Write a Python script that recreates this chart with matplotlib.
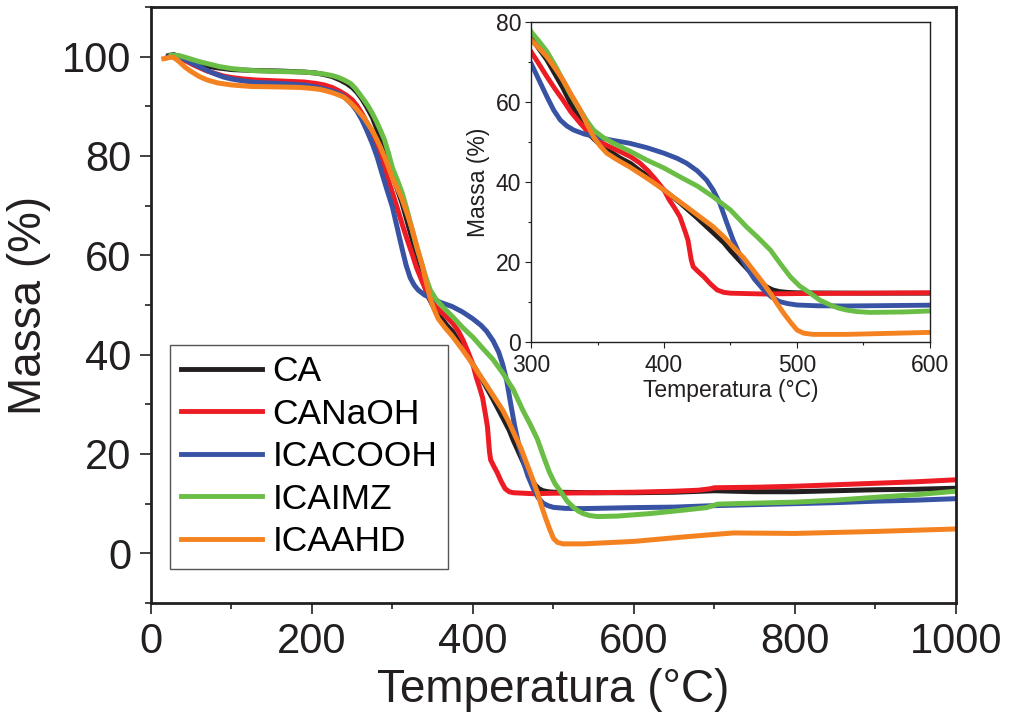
import matplotlib
matplotlib.use("Agg")
import matplotlib.pyplot as plt
from matplotlib.ticker import MultipleLocator

plt.rcParams['font.family'] = ['Liberation Sans', 'DejaVu Sans']

labels = ["CA", "CANaOH", "ICACOOH", "ICAIMZ", "ICAAHD"]
colors = ["#231f20", "#ed1c24", "#3953a4", "#6abd45", "#f58220"]

T_CA = [22, 28, 35, 45, 52, 60, 70, 80, 90, 100, 130, 160, 190, 205, 215, 225, 235, 243, 250, 256, 262, 268, 275,
        281, 287, 293, 300, 306, 312, 318, 324, 330, 337, 341, 345, 352, 360, 367, 375, 382, 390, 400, 412, 425,
        437, 445, 450, 455, 460, 465, 470, 474, 477, 482, 487, 493, 500, 550, 600, 650, 700, 750, 800, 850, 900,
        950, 1000]
M_CA = [100.2, 100.4, 100.1, 99.5, 99.0, 98.6, 98.1, 97.8, 97.6, 97.4, 97.2, 97.1, 96.9, 96.7, 96.4, 96.0, 95.3,
        94.6, 93.8, 92.8, 91.5, 89.9, 87.8, 85.3, 82.5, 79.4, 76.0, 73.3, 70.5, 67.0, 63.5, 59.5, 55.5, 53.3, 51.5,
        49.3, 47.5, 46.0, 44.6, 42.8, 41.0, 38.0, 34.8, 31.0, 27.3, 24.8, 22.8, 21.0, 19.2, 17.4, 15.8, 14.6, 13.8,
        13.0, 12.6, 12.4, 12.3, 12.2, 12.2, 12.3, 12.6, 12.4, 12.4, 12.6, 12.8, 12.9, 13.1]

T_NaOH = [20, 25, 30, 37, 45, 52, 60, 70, 80, 90, 100, 115, 130, 160, 190, 205, 215, 225, 235, 243, 250, 256, 262,
          268, 275, 281, 287, 293, 300, 306, 312, 318, 324, 330, 337, 343, 349, 358, 367, 375, 382, 388, 394, 400,
          404, 408, 412, 416, 418, 419.5, 420.5, 422, 426, 430, 435, 440, 445, 450, 475, 500, 550, 600, 650, 680,
          695, 700, 750, 800, 850, 900, 950, 1000]
M_NaOH = [99.8, 100.1, 100.2, 99.6, 99.0, 98.4, 97.8, 97.1, 96.6, 96.1, 95.8, 95.5, 95.3, 95.1, 94.9, 94.6, 94.3,
          93.8, 93.0, 92.2, 91.3, 90.1, 88.6, 86.8, 84.5, 82.0, 79.0, 76.0, 72.6, 69.5, 66.3, 63.3, 60.5, 57.5, 54.7,
          52.5, 50.5, 49.0, 47.6, 46.3, 44.7, 42.8, 40.5, 38.0, 35.5, 33.5, 31.3, 27.5, 25.5, 22.5, 20.5, 18.8, 17.5,
          16.3, 14.5, 13.0, 12.4, 12.2, 12.0, 12.1, 12.2, 12.3, 12.5, 12.7, 13.0, 13.2, 13.3, 13.5, 13.8, 14.1,
          14.4, 14.8]

T_COOH = [22, 27, 32, 38, 45, 52, 60, 70, 80, 90, 100, 115, 130, 160, 190, 205, 215, 225, 235, 243, 250, 256, 262,
          268, 275, 281, 287, 293, 300, 306, 312, 317, 322, 327, 332, 340, 349, 360, 374, 387, 400, 410, 417, 425,
          432, 437, 442, 447, 452, 457, 462, 468, 475, 481, 487, 493, 500, 515, 537, 600, 650, 700, 750, 800, 850,
          900, 950, 1000]
M_COOH = [100.0, 100.3, 100.2, 99.7, 99.2, 98.6, 98.0, 97.2, 96.5, 95.9, 95.5, 95.1, 94.8, 94.6, 94.3, 93.9, 93.5,
          93.1, 92.5, 91.5, 90.3, 89.0, 87.3, 85.2, 82.5, 79.8, 76.5, 73.3, 69.7, 65.5, 61.3, 58.0, 55.5, 54.0, 53.0,
          52.0, 51.3, 50.5, 49.7, 48.6, 47.2, 45.9, 44.7, 42.8, 40.5, 38.0, 34.7, 30.0, 25.5, 21.8, 18.8, 15.7, 13.0,
          11.2, 10.1, 9.6, 9.25, 9.05, 9.0, 9.2, 9.3, 9.6, 9.8, 10.0, 10.2, 10.5, 10.7, 11.0]

T_IMZ = [25, 35, 42, 50, 60, 70, 85, 100, 125, 160, 190, 205, 215, 225, 233, 240, 248, 254, 260, 265, 270, 275, 280,
         285, 290, 295, 300, 306, 312, 318, 324, 330, 337, 342, 347, 354, 362, 375, 387, 400, 412, 425, 437, 450,
         462, 471, 480, 487, 495, 502, 510, 517, 525, 531, 537, 545, 555, 580, 620, 662, 690, 704, 750, 800, 850,
         911, 950, 1000]
M_IMZ = [100.3, 100.2, 99.9, 99.5, 99.0, 98.6, 98.0, 97.6, 97.2, 97.0, 96.9, 96.7, 96.5, 96.2, 95.8, 95.3, 94.6,
         93.6, 92.3, 91.2, 90.0, 88.6, 87.0, 85.2, 83.3, 80.6, 77.6, 75.2, 72.6, 69.2, 65.5, 61.7, 58.0, 55.3, 53.0,
         51.2, 49.7, 47.6, 45.5, 43.5, 41.3, 39.0, 36.3, 33.0, 28.8, 26.0, 23.0, 19.8, 16.3, 14.0, 12.2, 10.5, 9.25,
         8.5, 8.0, 7.6, 7.4, 7.5, 8.0, 8.7, 9.2, 9.9, 10.1, 10.3, 10.7, 11.4, 11.8, 12.5]

T_AHD = [16, 22, 27, 32, 37, 43, 50, 60, 70, 83, 100, 124, 160, 185, 200, 210, 220, 226, 233, 240, 248, 254, 260,
         265, 269, 275, 280, 285, 290, 295, 300, 306, 312, 318, 324, 330, 337, 342, 347, 352, 357, 365, 374, 387,
         400, 408, 417, 427, 437, 445, 452, 460, 467, 474, 480, 485, 490, 495, 500, 505, 512, 537, 575, 600, 662,
         700, 724, 800, 900, 1000]
M_AHD = [99.6, 99.8, 99.9, 99.4, 98.7, 97.8, 97.0, 96.0, 95.3, 94.7, 94.3, 94.0, 93.9, 93.8, 93.6, 93.4, 93.0, 92.7,
         92.3, 91.8, 90.7, 89.7, 88.6, 87.6, 86.6, 85.1, 83.5, 81.8, 79.9, 77.8, 75.5, 73.5, 71.3, 68.5, 65.5, 62.0,
         58.0, 54.5, 51.3, 49.0, 47.2, 45.5, 43.8, 41.0, 38.0, 36.0, 33.8, 31.3, 28.8, 26.3, 23.8, 21.0, 18.0, 15.0,
         12.2, 9.6, 7.2, 5.0, 3.0, 2.2, 1.9, 1.9, 2.2, 2.4, 3.3, 3.8, 4.1, 4.0, 4.4, 4.9]

series = [(T_CA, M_CA), (T_NaOH, M_NaOH), (T_COOH, M_COOH), (T_IMZ, M_IMZ), (T_AHD, M_AHD)]

fig = plt.figure(figsize=(10.13, 7.27), dpi=100)
ax = fig.add_axes([0.149, 0.1706, 0.7947, 0.8198])

for (t, m), lab, c in zip(series, labels, colors):
    ax.plot(t, m, color=c, lw=3.6, label=lab, solid_joinstyle='round')

ax.set_xlim(0, 1000)
ax.set_ylim(-10, 110)
ax.xaxis.set_major_locator(MultipleLocator(200))
ax.xaxis.set_minor_locator(MultipleLocator(100))
ax.yaxis.set_major_locator(MultipleLocator(20))
ax.yaxis.set_minor_locator(MultipleLocator(10))
ax.tick_params(which='both', direction='out', top=False, right=False, width=1.2, colors='#231f20')
ax.tick_params(which='major', length=8, labelsize=30, pad=6)
ax.tick_params(which='minor', length=4)
for s in ax.spines.values():
    s.set_linewidth(2.0)
    s.set_color('#231f20')
ax.set_xlabel("Temperatura (°C)", fontsize=33, labelpad=4, color='#231f20')
ax.set_ylabel("Massa (%)", fontsize=33, labelpad=8, color='#231f20')

leg = ax.legend(loc='lower left', bbox_to_anchor=(0.0236, 0.057), borderaxespad=0, fontsize=25.5,
                handlelength=2.3, handletextpad=0.3, labelspacing=0.27, fancybox=False,
                edgecolor='#555555', framealpha=1, borderpad=0.3)
leg.get_frame().set_linewidth(1.0)
for h in leg.get_lines():
    h.set_linewidth(3.5)

ins = fig.add_axes([0.5242, 0.5296, 0.3938, 0.4401])
for (t, m), c in zip(series, colors):
    ins.plot(t, m, color=c, lw=3.5, solid_joinstyle='round')
ins.set_xlim(300, 600)
ins.set_ylim(0, 80)
ins.xaxis.set_major_locator(MultipleLocator(100))
ins.xaxis.set_minor_locator(MultipleLocator(50))
ins.yaxis.set_major_locator(MultipleLocator(20))
ins.yaxis.set_minor_locator(MultipleLocator(10))
ins.tick_params(which='both', direction='out', top=False, right=False, width=0.8, colors='#231f20')
ins.tick_params(which='major', length=4, labelsize=16.5)
ins.tick_params(axis='x', which='major', pad=5)
ins.tick_params(axis='y', which='major', pad=3)
ins.tick_params(which='minor', length=2.5)
for s in ins.spines.values():
    s.set_linewidth(1.0)
    s.set_color('#231f20')
ins.set_xlabel("Temperatura (°C)", fontsize=16.5, labelpad=1, color='#231f20')
ins.set_ylabel("Massa (%)", fontsize=16.5, labelpad=4, color='#231f20')

fig.savefig("out.png", dpi=100)
